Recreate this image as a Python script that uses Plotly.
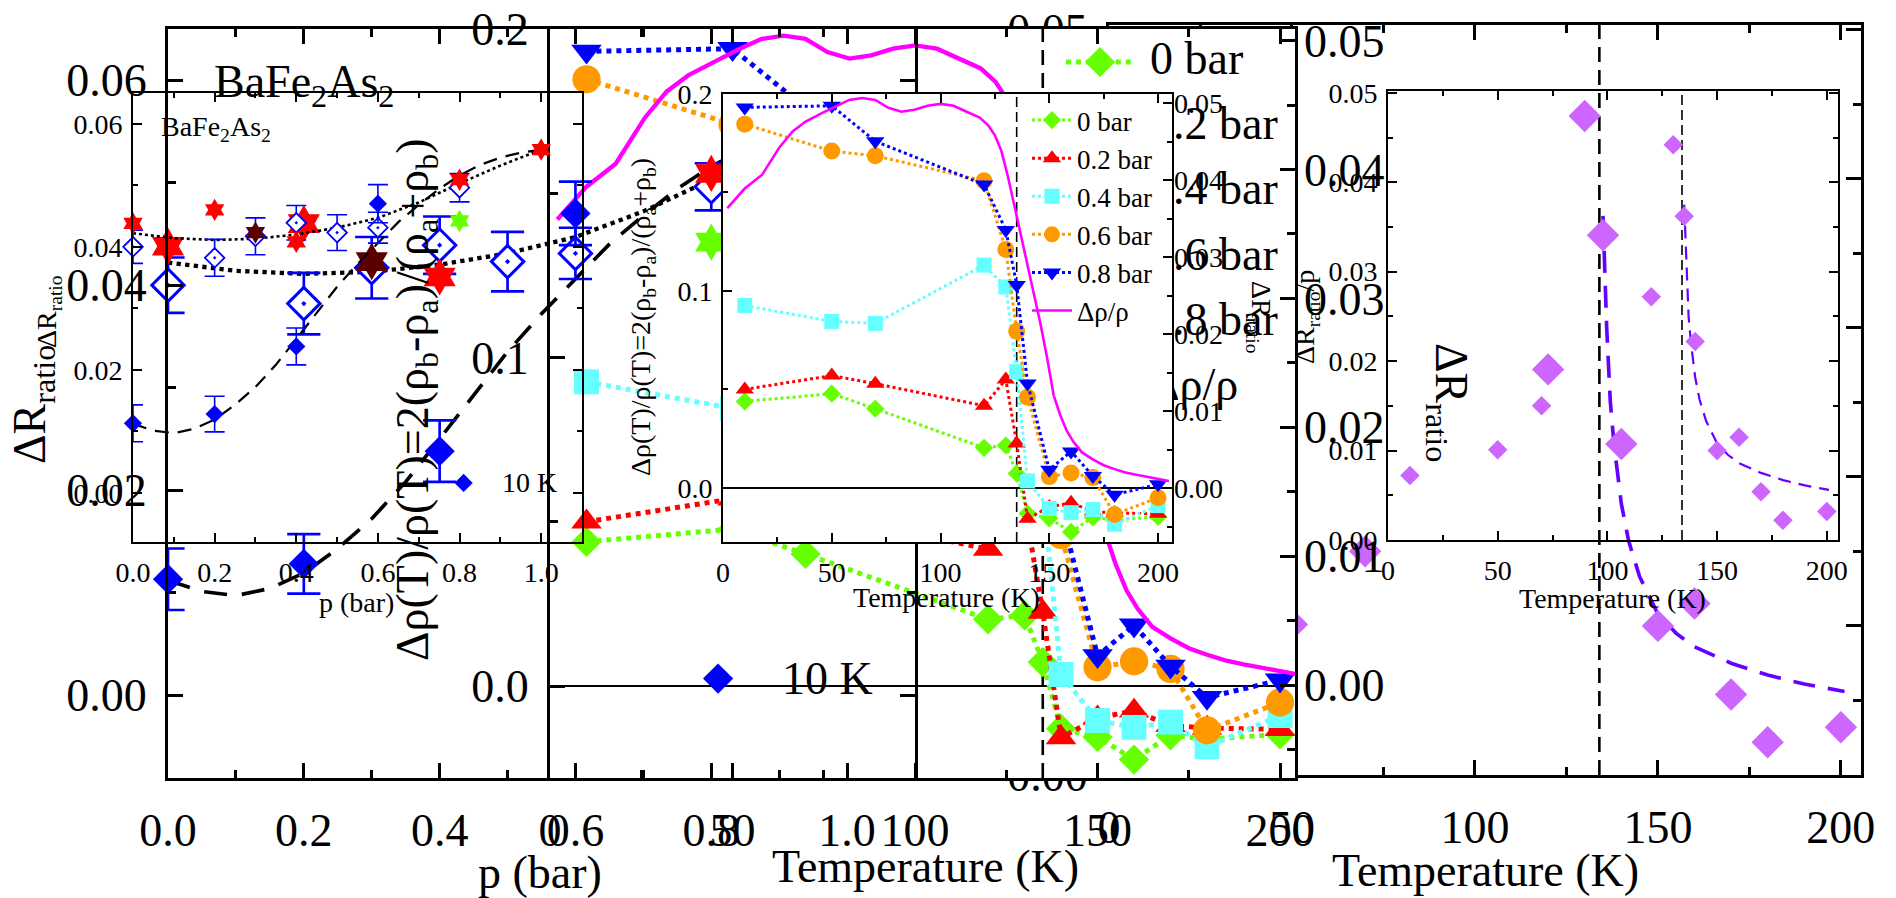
import plotly.graph_objects as go

W, H = 1896, 898
SERIF = "Liberation Serif"

# ---------------- (a) ΔR_ratio versus uniaxial pressure p (bar) ----------------
p_10K = [0.0, 0.2, 0.4, 0.6]
r_10K = [0.0113, 0.0128, 0.0238, 0.0470]
e_10K = [0.0030, 0.0029, 0.0030, 0.0031]

p_open = [0.0, 0.2, 0.3, 0.4, 0.5, 0.6, 0.8]
r_open = [0.0400, 0.0382, 0.0417, 0.0439, 0.0423, 0.0431, 0.0496]
e_open = [0.0027, 0.0030, 0.0030, 0.0028, 0.0029, 0.0025, 0.0023]

p_red = [0.0, 0.2, 0.4, 0.8, 1.0]
r_red = [0.0438, 0.0460, 0.0408, 0.0509, 0.0558]

p_darkred = [0.3]
r_darkred = [0.0423]

p_green = [0.8]
r_green = [0.0442]

p_fit_dash = [0.0, 0.05, 0.1, 0.15, 0.2, 0.25, 0.3, 0.35, 0.4, 0.45, 0.5,
              0.55, 0.6, 0.65, 0.7, 0.75, 0.8, 0.85, 0.9, 0.95, 1.0]
r_fit_dash = [0.0112, 0.0101, 0.0097, 0.0104, 0.0119, 0.0143, 0.0172, 0.0208, 0.0250, 0.0293, 0.0335,
              0.0372, 0.0406, 0.0440, 0.0468, 0.0494, 0.0516, 0.0533, 0.0545, 0.0553, 0.0558]

p_fit_dot = [0.0, 0.1, 0.2, 0.3, 0.4, 0.5, 0.6, 0.7, 0.8, 0.9, 1.0]
r_fit_dot = [0.0422, 0.0414, 0.0411, 0.0413, 0.0420, 0.0431, 0.0447, 0.0472, 0.0503, 0.0532, 0.0558]

key_label_a = "10 K"

# ---------------- (b) Δρ(T)/ρ(T) versus temperature ----------------
T_b = [10, 50, 70, 120, 130, 135, 140, 150, 160, 170, 180, 200]
drho_0bar = [0.0439, 0.0478, 0.0402, 0.0203, 0.0215, 0.0073, -0.0130, -0.0155, -0.0224, -0.0150, -0.0162, -0.0147]
drho_02bar = [0.0500, 0.0570, 0.0529, 0.0417, 0.0550, 0.0225, -0.0157, -0.0097, -0.0076, -0.0120, -0.0128, -0.0132]
drho_04bar = [0.0926, 0.0845, 0.0835, 0.1131, 0.1020, 0.0590, 0.0035, -0.0105, -0.0126, -0.0110, -0.0185, -0.0090]
drho_06bar = [0.1847, 0.1710, 0.1686, 0.1559, 0.1210, 0.0795, 0.0460, 0.0057, 0.0075, 0.0052, -0.0135, -0.0050]
drho_08bar = [0.1932, 0.1940, 0.1760, 0.1540, 0.1310, 0.1030, 0.0530, 0.0092, 0.0185, 0.0060, -0.0035, 0.0018]
pressure_labels = ["0 bar", "0.2 bar", "0.4 bar", "0.6 bar", "0.8 bar"]

T_mag = [2, 10, 18, 26, 32, 38, 45, 52, 58, 64, 70, 76, 82, 88, 94, 100, 106, 112, 118, 122,
         125, 128, 131, 134, 137, 140, 143, 146, 149, 152, 155, 158, 161, 165, 170, 175, 180, 185,
         190, 195, 200, 205]
drho_rho = [0.142, 0.152, 0.159, 0.173, 0.181, 0.186, 0.190, 0.194, 0.197, 0.198, 0.197, 0.193, 0.191,
            0.192, 0.194, 0.195, 0.194, 0.191, 0.188, 0.184, 0.179, 0.171, 0.158, 0.143, 0.128, 0.113,
            0.098, 0.083, 0.066, 0.047, 0.037, 0.029, 0.0235, 0.018, 0.0145, 0.0115, 0.0095, 0.0078,
            0.0066, 0.0055, 0.0045, 0.0035]
mag_label = "Δρ/ρ"
T_s_b = 135

# ---------------- (c) ΔR_ratio/p versus temperature ----------------
T_c = [10, 50, 70, 120, 130, 135, 140, 150, 160, 170, 180, 200]
rp_c = [0.0072, 0.0101, 0.0150, 0.0272, 0.0442, 0.0362, 0.0222, 0.0100, 0.0115, 0.0054, 0.0022, 0.0032]
T_c_fit = [135, 135.5, 136, 137, 138, 140, 142, 145, 150, 155, 160, 170, 180, 190, 201]
rp_c_fit = [0.0375, 0.0340, 0.0300, 0.0250, 0.0222, 0.0182, 0.0157, 0.0133, 0.0108, 0.0095,
            0.0086, 0.0075, 0.0067, 0.0061, 0.0056]
T_s_c = 134

# ---------------- layout constants (pixels) ----------------
GEOM = {  # plot boxes: left, right, top, bottom
    "LC": (1109, 1861, 25, 775),
    "SC": (1388, 1838, 91, 540),
    "LB": (550, 1295, 29, 778),
    "LA": (168, 915, 29, 778),
    "SA": (133, 582, 93, 542),
    "SB": (723, 1172, 94, 542),
}
XR = {"LC": [0, 205.5], "SC": [0, 205.1], "LB": [0, 204.1], "LA": [0, 1.1], "SA": [0, 1.1], "SB": [0, 206.4]}
YR = {"LC": [0, 0.0503], "SC": [0, 0.0502], "LB": [-0.028, 0.2], "LA": [-0.0081, 0.065],
      "SA": [-0.008, 0.065], "SB": [-0.0275, 0.2]}
YR_RIGHT = {"LB": [-0.0072, 0.0509], "SB": [-0.0070, 0.0512]}
AXES = {"LC": ("x", "y"), "SC": ("x2", "y2"), "LB": ("x3", "y3"), "LA": ("x5", "y5"),
        "SA": ("x6", "y6"), "SB": ("x7", "y7")}
RIGHT_AX = {"LB": "y4", "SB": "y8"}
SIZE = {"LC": "L", "SC": "S", "LB": "L", "LA": "L", "SA": "S", "SB": "S"}
KF = {"L": 1.66, "S": 1.0}
STY = {
    "S": dict(fs=28, lw=1.6, tl=9, mtl=5, tw=1.6, std_y=3, std_x=5),
    "L": dict(fs=46, lw=3.2, tl=15, mtl=8, tw=3.0, std_y=9, std_x=10),
}
KEY_A = (0.81, 0.0016)          # position of the "10 K" key inside panel (a)
KEY_SHIFT = {"S": 36, "L": 62}  # gap between the key marker and its label (px)
BIG_LEGEND = dict(line_px=(1066, 1134), mark_px=1100, text_px=1150,
                  rows_px=[62, 127, 192, 258, 323, 388])

C_BLUE, C_RED, C_DARKRED, C_GREEN = "#0000ff", "#ff0000", "#5a0000", "#66ff00"
C_CYAN, C_ORANGE, C_MAG, C_PURP, C_FIT = "#66ffff", "#ff9900", "#ff00ff", "#cc66ff", "#6600ff"


def px2data(key, px, py):
    l, r, t, b = GEOM[key]
    x0, x1 = XR[key]
    y0, y1 = YR[key]
    return x0 + (px - l) / (r - l) * (x1 - x0), y1 - (py - t) / (b - t) * (y1 - y0)


traces = []


def add(key, **kw):
    xa, ya = AXES[key]
    kw.setdefault("showlegend", False)
    kw.setdefault("hoverinfo", "skip")
    traces.append(go.Scatter(xaxis=xa, yaxis=ya, **kw))


def panel_a(key):
    k = KF[SIZE[key]]
    add(key, x=p_fit_dash, y=r_fit_dash, mode="lines",
        line=dict(color="black", width=2.2 * k, dash=f"{14 * k:.0f}px,{9 * k:.0f}px"))
    add(key, x=p_fit_dot, y=r_fit_dot, mode="lines", line=dict(color="black", width=2.6 * k, dash="dot"))
    add(key, x=p_open, y=r_open, mode="markers", cliponaxis=False,
        marker=dict(symbol="diamond", size=15 * k, color="white"),
        error_y=dict(type="data", array=e_open, color=C_BLUE, thickness=1.6 * k, width=10 * k))
    add(key, x=p_open, y=r_open, mode="markers", cliponaxis=False,
        marker=dict(symbol="diamond-open-dot", size=15 * k, color=C_BLUE, line=dict(width=1.8 * k, color=C_BLUE)))
    add(key, x=p_10K, y=r_10K, mode="markers", cliponaxis=False,
        marker=dict(symbol="diamond", size=14 * k, color=C_BLUE),
        error_y=dict(type="data", array=e_10K, color=C_BLUE, thickness=1.6 * k, width=10 * k))
    add(key, x=p_red, y=r_red, mode="markers", cliponaxis=False,
        marker=dict(symbol="hexagram", size=17 * k, color=C_RED))
    add(key, x=p_darkred, y=r_darkred, mode="markers", cliponaxis=False,
        marker=dict(symbol="hexagram", size=17 * k, color=C_DARKRED))
    add(key, x=p_green, y=r_green, mode="markers", cliponaxis=False,
        marker=dict(symbol="hexagram", size=17 * k, color=C_GREEN))
    add(key, x=[KEY_A[0]], y=[KEY_A[1]], mode="markers", cliponaxis=False,
        marker=dict(symbol="diamond", size=14 * k, color=C_BLUE))


B_SERIES = [
    (drho_0bar, C_GREEN, "diamond", 14),
    (drho_02bar, C_RED, "triangle-up", 16),
    (drho_04bar, C_CYAN, "square", 15),
    (drho_06bar, C_ORANGE, "circle", 17),
    (drho_08bar, C_BLUE, "triangle-down", 16),
]


def panel_b(key, legend):
    k = KF[SIZE[key]]
    for (vals, col, sym, ms), name in zip(B_SERIES, pressure_labels):
        add(key, x=T_b, y=vals, mode="lines+markers", name=name, showlegend=legend,
            line=dict(color=col, width=3 * k, dash="dot"),
            marker=dict(symbol=sym, size=ms * k, color=col))
    add(key, x=T_mag, y=drho_rho, mode="lines", name=mag_label, showlegend=legend,
        line=dict(color=C_MAG, width=2.6 * k))


def big_legend(key):
    k = KF[SIZE[key]]
    xa0, _ = px2data(key, BIG_LEGEND["line_px"][0], 0)
    xa1, _ = px2data(key, BIG_LEGEND["line_px"][1], 0)
    xm, _ = px2data(key, BIG_LEGEND["mark_px"], 0)
    xt, _ = px2data(key, BIG_LEGEND["text_px"], 0)
    rows = [px2data(key, 0, py)[1] for py in BIG_LEGEND["rows_px"]]
    for (vals, col, sym, ms), yv in zip(B_SERIES, rows):
        add(key, x=[xa0, xa1], y=[yv, yv], mode="lines", line=dict(color=col, width=3 * k, dash="dot"))
        add(key, x=[xm], y=[yv], mode="markers", marker=dict(symbol=sym, size=ms * k, color=col))
    add(key, x=[xa0, xa1], y=[rows[-1], rows[-1]], mode="lines", line=dict(color=C_MAG, width=2.6 * k))
    add(key, x=[xt] * len(rows), y=rows, mode="text", text=pressure_labels + [mag_label],
        textposition="middle right", cliponaxis=False,
        textfont=dict(family=SERIF, size=46, color="black"))


def panel_c(key):
    k = KF[SIZE[key]]
    add(key, x=T_c_fit, y=rp_c_fit, mode="lines",
        line=dict(color=C_FIT, width=2.2 * k, dash=f"{13 * k:.0f}px,{8 * k:.0f}px"))
    add(key, x=T_c, y=rp_c, mode="markers", cliponaxis=False,
        marker=dict(symbol="diamond", size=15 * k, color=C_PURP))


# drawing order (bottom -> top): LC, SC, LB, LA, SA, SB
panel_c("LC")
panel_c("SC")
panel_b("LB", legend=False)
big_legend("LB")
traces.append(go.Scatter(x=[], y=[], xaxis="x3", yaxis="y4", showlegend=False))
panel_a("LA")
panel_a("SA")
panel_b("SB", legend=True)
traces.append(go.Scatter(x=[], y=[], xaxis="x7", yaxis="y8", showlegend=False))

fig = go.Figure(data=traces)


def axname(aid):
    return ("xaxis" if aid[0] == "x" else "yaxis") + aid[1:]


def common(sty):
    return dict(showline=True, linecolor="black", linewidth=sty["lw"], ticks="inside",
                ticklen=sty["tl"], tickwidth=sty["tw"], tickcolor="black", showgrid=False,
                zeroline=False, tick0=0,
                tickfont=dict(family=SERIF, size=sty["fs"], color="black"))


def minor(sty, d):
    return dict(dtick=d, ticks="inside", ticklen=sty["mtl"], tickwidth=sty["tw"], tickcolor="black")


axes_layout = {}
TICKS = {  # key: (x dtick, x minor, x format, y dtick, y minor, y format)
    "LC": (50, 25, "d", 0.01, 0.005, ".2f"),
    "SC": (50, 25, "d", 0.01, 0.005, ".2f"),
    "LB": (50, 25, "d", 0.1, 0.05, ".1f"),
    "LA": (0.2, 0.1, ".1f", 0.02, 0.01, ".2f"),
    "SA": (0.2, 0.1, ".1f", 0.02, 0.01, ".2f"),
    "SB": (50, 25, "d", 0.1, 0.05, ".1f"),
}
for key, (xd, xm, xf, yd, ym, yf) in TICKS.items():
    sty = STY[SIZE[key]]
    xa, ya = AXES[key]
    l, r, t, b = GEOM[key]
    axes_layout[axname(xa)] = dict(common(sty), domain=[l / W, r / W], range=XR[key], anchor=ya,
                                   mirror="ticks", dtick=xd, tickformat=xf, minor=minor(sty, xm),
                                   ticklabelstandoff=sty["std_x"])
    has_right = key in RIGHT_AX
    axes_layout[axname(ya)] = dict(common(sty), domain=[1 - b / H, 1 - t / H], range=YR[key], anchor=xa,
                                   mirror=True if has_right else "ticks", dtick=yd, tickformat=yf,
                                   minor=minor(sty, ym), ticklabelstandoff=sty["std_y"],
                                   zeroline=has_right, zerolinecolor="black",
                                   zerolinewidth=2.2 if SIZE[key] == "L" else 1.5)
    if has_right:
        axes_layout[axname(RIGHT_AX[key])] = dict(
            common(sty), overlaying=ya, side="right", anchor=xa, range=YR_RIGHT[key],
            showline=False, dtick=0.01, tickformat=".2f", minor=minor(sty, 0.005),
            ticklabelstandoff=8 if SIZE[key] == "L" else 1)

# opaque plot areas for panel (b) copies, and the dashed transition lines
shapes = []
for key in ("LB", "SB"):
    xa, ya = AXES[key]
    shapes.append(dict(type="rect", xref=xa, yref=ya, x0=XR[key][0], x1=XR[key][1],
                       y0=YR[key][0], y1=YR[key][1], fillcolor="white", line=dict(width=0), layer="below"))
for key, ts in (("LB", T_s_b), ("SB", T_s_b), ("LC", T_s_c), ("SC", T_s_c)):
    xa, ya = AXES[key]
    big = SIZE[key] == "L"
    shapes.append(dict(type="line", xref=xa, yref=ya, x0=ts, x1=ts, y0=YR[key][0], y1=YR[key][1],
                       line=dict(color="black", width=2.6 if big else 1.6,
                                 dash="15px,8px" if big else "10px,5px"), layer="below"))


def ann(px, py, text, size, angle=0, xanchor="center"):
    return dict(x=px / W, y=1 - py / H, xref="paper", yref="paper", text=text, showarrow=False,
                textangle=angle, xanchor=xanchor, yanchor="middle",
                font=dict(family=SERIF, size=size, color="black"))


RR = "ΔR<sub>ratio</sub>"
YB = "Δρ(T)/ρ(T)=2(ρ<sub>b</sub>-ρ<sub>a</sub>)/(ρ<sub>a</sub>+ρ<sub>b</sub>)"
annotations = [
    ann(48, 312, RR, 28, -90),
    ann(33, 405, RR, 46, -90),
    ann(356, 602, "p (bar)", 28),
    ann(540, 872, "p (bar)", 46),
    ann(643, 317, YB, 28, -90),
    ann(416, 400, YB, 46, -90),
    ann(946, 597, "Temperature (K)", 28),
    ann(925, 866, "Temperature (K)", 46),
    ann(1259, 317, RR, 28, 90),
    ann(1448, 402, RR, 46, 90),
    ann(1307, 317, RR + "/p", 28, -90),
    ann(1612, 598, "Temperature (K)", 28),
    ann(1485, 870, "Temperature (K)", 46),
    ann(159, 128, "BaFe<sub>2</sub>As<sub>2</sub>", 28, 0, "left"),
    ann(212, 85, "BaFe<sub>2</sub>As<sub>2</sub>", 46, 0, "left"),
]
for key in ("SA", "LA"):
    xa, ya = AXES[key]
    annotations.append(dict(x=KEY_A[0], y=KEY_A[1], xref=xa, yref=ya, text=key_label_a, showarrow=False,
                            xanchor="left", yanchor="middle", xshift=KEY_SHIFT[SIZE[key]],
                            font=dict(family=SERIF, size=28 if key == "SA" else 46, color="black")))

fig.update_layout(
    width=W, height=H, margin=dict(l=0, r=0, t=0, b=0, pad=0, autoexpand=False),
    paper_bgcolor="white", plot_bgcolor="rgba(0,0,0,0)",
    font=dict(family=SERIF, color="black"),
    showlegend=True,
    legend=dict(x=1027 / W, y=1 - 96 / H, xanchor="left", yanchor="top", bgcolor="rgba(0,0,0,0)",
                borderwidth=0, font=dict(family=SERIF, size=27, color="black"), itemwidth=40,
                tracegroupgap=0),
    shapes=shapes, annotations=annotations,
    **axes_layout,
)

fig.write_html("out.html")
